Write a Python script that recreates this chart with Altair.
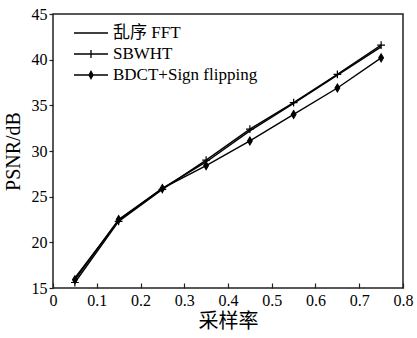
import altair as alt
import pandas as pd

sampling_rate = [0.05, 0.15, 0.25, 0.35, 0.45, 0.55, 0.65, 0.75]
series_names = ["乱序 FFT", "SBWHT", "BDCT+Sign flipping"]
psnr_fft = [16.1, 22.4, 25.9, 28.8, 32.2, 35.2, 38.3, 41.4]
psnr_sbwht = [15.6, 22.3, 25.8, 29.0, 32.4, 35.3, 38.4, 41.6]
psnr_bdct = [15.9, 22.5, 25.9, 28.4, 31.1, 34.0, 36.9, 40.2]
x_ticks = [0, 0.1, 0.2, 0.3, 0.4, 0.5, 0.6, 0.7, 0.8]
y_ticks = [15, 20, 25, 30, 35, 40, 45]

rows = []
for name, vals in zip(series_names, [psnr_fft, psnr_sbwht, psnr_bdct]):
    for xv, yv in zip(sampling_rate, vals):
        rows.append({"x": xv, "y": yv, "series": name})
df = pd.DataFrame(rows)

FONT = "Liberation Serif, Times New Roman, Noto Sans CJK SC"

x_enc = alt.X("x:Q", scale=alt.Scale(domain=[0, 0.8], nice=False),
              axis=alt.Axis(values=x_ticks, title="采样率", format="~g",
                            offset=-5, tickSize=5, domain=False, grid=False,
                            labelFlush=False, labelPadding=4, titlePadding=3))
y_enc = alt.Y("y:Q", scale=alt.Scale(domain=[15, 45], nice=False),
              axis=alt.Axis(values=y_ticks, title="PSNR/dB", tickSize=4,
                            domain=False, grid=False, labelFlush=False,
                            labelPadding=2, titlePadding=8))

base = alt.Chart(df).encode(x=x_enc, y=y_enc)

lines = base.mark_line(color="black", strokeWidth=1.4).encode(detail="series:N")

marker_paths = ["M-1,0H1M0,-1V1", "M0,-1L0.6,0L0,1L-0.6,0Z"]
points = base.transform_filter(
    alt.FieldOneOfPredicate(field="series", oneOf=series_names[1:])
).mark_point(fill="black", stroke="black", fillOpacity=1, opacity=1,
             strokeWidth=1.2, size=60).encode(
    shape=alt.Shape("series:N", scale=alt.Scale(domain=series_names[1:], range=marker_paths),
                    legend=None)
)

legend_paths = [
    "M-1.7,0H1.7",
    "M-1.7,0H1.7M0,-0.4V0.4",
    "M-1.7,0H1.7M0,-0.37L0.2,0L0,0.37L-0.2,0ZM0,-0.27V0.27M-0.11,0H0.11",
]

legend_layer = base.transform_filter("false").mark_point(
    filled=False, color="black", strokeWidth=1.3
).encode(
    shape=alt.Shape("series:N", scale=alt.Scale(domain=series_names, range=legend_paths),
                    legend=alt.Legend(title=None, orient="none", legendX=27, legendY=8,
                                      symbolSize=400, symbolStrokeWidth=1.3,
                                      symbolStrokeColor="black",
                                      symbolOpacity=1, labelFontSize=17, labelFont=FONT,
                                      labelColor="black", labelOffset=11, rowPadding=2,
                                      padding=0))
)

chart = alt.layer(lines, points, legend_layer).resolve_scale(shape="independent").properties(
    width=350, height=274,
    autosize=alt.AutoSizeParams(type="none"),
    padding={"left": 53, "top": 14, "right": 14, "bottom": 50},
).configure_view(stroke="#222", strokeWidth=1.5).configure_axis(
    labelFont=FONT, titleFont=FONT, labelFontSize=16, titleFontSize=20,
    titleFontWeight="normal", labelColor="black", titleColor="black",
    tickColor="#222", tickWidth=1.2
)

chart.save("out.html", embed_options={"renderer": "svg", "actions": False})
